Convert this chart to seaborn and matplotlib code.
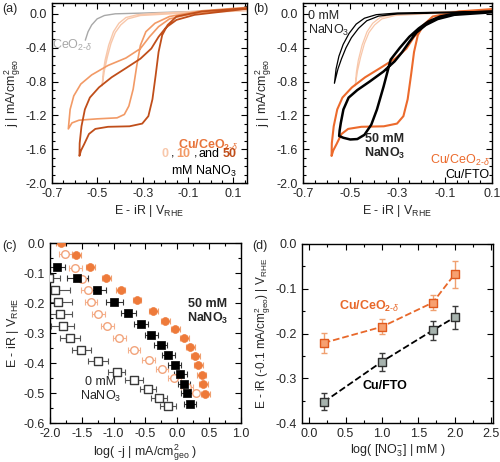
import matplotlib
matplotlib.use("Agg")
import matplotlib.pyplot as plt
import seaborn as sns
from matplotlib.ticker import MultipleLocator, FixedLocator, FormatStrFormatter

# ---------------- data ----------------
# (a)/(b) cyclic voltammograms  (E - iR in V_RHE, j in mA/cm2_geo)
ceo2_E = [-0.553, -0.541, -0.525, -0.501, -0.469, -0.421, -0.31, -0.07, 0.16]
ceo2_j = [-0.31, -0.21, -0.13, -0.058, -0.018, 0.002, 0.01, 0.03, 0.062]

cu0_E = [0.16, -0.071, -0.23, -0.326, -0.374, -0.405, -0.429, -0.45, -0.466, -0.474, -0.479,
         -0.469, -0.456, -0.44, -0.421, -0.397, -0.366, -0.31, -0.15, 0.16]
cu0_j = [0.058, 0.03, 0.01, -0.01, -0.042, -0.11, -0.21, -0.37, -0.549, -0.689, -0.85,
         -0.67, -0.51, -0.35, -0.22, -0.13, -0.058, -0.018, 0.006, 0.038]

cu10_E = [0.16, -0.039, -0.182, -0.246, -0.286, -0.31, -0.326, -0.342, -0.361, -0.381, -0.413,
          -0.501, -0.581, -0.612, -0.628,
          -0.62, -0.604, -0.573, -0.525, -0.453, -0.374, -0.31, -0.27, -0.23, -0.182, -0.071, 0.16]
cu10_j = [0.078, 0.038, -0.03, -0.11, -0.21, -0.37, -0.609, -0.889, -1.089, -1.189, -1.229,
          -1.241, -1.257, -1.289, -1.36,
          -1.129, -0.969, -0.829, -0.721, -0.609, -0.521, -0.409, -0.27, -0.15, -0.058, 0.01, 0.062]

cu50_E = [0.16, -0.039, -0.151, -0.19, -0.214, -0.23, -0.243, -0.257, -0.275, -0.302, -0.358,
          -0.453, -0.509, -0.537, -0.558, -0.572, -0.579,
          -0.578, -0.57, -0.555, -0.533, -0.493, -0.437, -0.374, -0.31, -0.262, -0.23, -0.198,
          -0.151, -0.071, 0.16]
cu50_j = [0.07, 0.03, -0.03, -0.13, -0.25, -0.45, -0.729, -1.009, -1.209, -1.297, -1.329,
          -1.335, -1.36, -1.42, -1.54, -1.615, -1.68,
          -1.529, -1.329, -1.129, -0.989, -0.869, -0.749, -0.641, -0.529, -0.409, -0.27, -0.162,
          -0.07, -0.01, 0.062]

cvfto0_E = [0.1, -0.3, -0.39, -0.44, -0.475, -0.505, -0.53, -0.548, -0.56, -0.567,
            -0.552, -0.537, -0.518, -0.495, -0.465, -0.43, -0.38, -0.3, 0.1]
cvfto0_j = [0.032, 0.012, -0.008, -0.05, -0.12, -0.23, -0.36, -0.5, -0.65, -0.82,
            -0.65, -0.53, -0.4, -0.28, -0.17, -0.08, -0.025, 0.0, 0.026]

cvfto50_E = [0.1, -0.05, -0.12, -0.17, -0.21, -0.25, -0.29, -0.329, -0.359, -0.387, -0.411,
             -0.44, -0.47, -0.5, -0.529, -0.547,
             -0.545, -0.54, -0.529, -0.507, -0.47, -0.418, -0.359, -0.312, -0.28, -0.25, -0.22,
             -0.18, -0.13, -0.06, 0.1]
cvfto50_j = [0.03, 0.01, -0.03, -0.09, -0.17, -0.27, -0.4, -0.54, -0.86, -1.13, -1.31,
             -1.43, -1.48, -1.485, -1.465, -1.444,
             -1.38, -1.29, -1.13, -0.99, -0.9, -0.8, -0.68, -0.56, -0.45, -0.33, -0.22,
             -0.13, -0.06, -0.01, 0.02]

# (c) Tafel-type data: log(-j) vs E - iR
tce50_logj = [-1.83, -1.59, -1.37, -1.116, -0.89, -0.633, -0.376, -0.19, -0.035, 0.11, 0.2, 0.28,
              0.33, 0.38, 0.41, 0.44]
tce50_E = [0.0, -0.039, -0.081, -0.118, -0.158, -0.191, -0.225, -0.259, -0.287, -0.318, -0.347,
           -0.377, -0.408, -0.439, -0.471, -0.503]
tce50_err = [0.07] * 16

tce0_logj = [-1.76, -1.6, -1.5, -1.41, -1.357, -1.24, -1.1, -0.91, -0.68, -0.45, -0.24, -0.05,
             0.15, 0.3]
tce0_E = [-0.037, -0.082, -0.12, -0.158, -0.195, -0.236, -0.278, -0.315, -0.355, -0.39, -0.42,
          -0.45, -0.48, -0.5]
tce0_err = [0.1] * 14

tfto50_logj = [-1.89, -1.57, -1.265, -0.99, -0.77, -0.564, -0.41, -0.26, -0.14, -0.044, 0.047,
               0.106, 0.154, 0.197]
tfto50_E = [-0.081, -0.118, -0.158, -0.195, -0.234, -0.27, -0.306, -0.34, -0.374, -0.405, -0.437,
            -0.47, -0.501, -0.535]
tfto50_err = [0.12, 0.16, 0.15, 0.13, 0.12, 0.11, 0.1, 0.1, 0.1, 0.1, 0.1, 0.1, 0.1, 0.1]

tfto0_logj = [-2.02, -1.92, -1.876, -1.85, -1.8, -1.69, -1.51, -1.25, -0.955, -0.68, -0.46,
              -0.285, -0.15]
tfto0_E = [-0.118, -0.158, -0.195, -0.236, -0.278, -0.315, -0.355, -0.394, -0.43, -0.458, -0.488,
           -0.516, -0.544]
tfto0_err = [0.18, 0.24, 0.22, 0.2, 0.18, 0.16, 0.15, 0.16, 0.14, 0.14, 0.13, 0.13, 0.13]

# (d) onset potential vs log([NO3-])
logno3 = [0.2, 1.0, 1.7, 2.0]
ce_onset = [-0.221, -0.185, -0.131, -0.068]
ce_onset_err = [0.023, 0.017, 0.016, 0.031]
fto_onset = [-0.353, -0.263, -0.193, -0.164]
fto_onset_err = [0.019, 0.02, 0.022, 0.026]

cv_ticks = [-0.7, -0.5, -0.3, -0.1, 0.1]

# ---------------- style ----------------
sns.set_style("ticks")
plt.rcParams['font.family'] = ['Liberation Sans', 'DejaVu Sans']
plt.rcParams['mathtext.fontset'] = 'custom'
plt.rcParams['mathtext.rm'] = 'Liberation Sans'
plt.rcParams['mathtext.it'] = 'Liberation Sans:italic'
plt.rcParams['mathtext.bf'] = 'Liberation Sans:bold'
plt.rcParams['axes.unicode_minus'] = False
plt.rcParams['font.size'] = 9

C_GRAY = '#a8a8a8'
C_LIGHT = '#f8c7aa'
C_MED = '#f29a66'
C_DARK = '#c04e1a'
C_ORANGE = '#ec6a2c'
C_TXT_OR = '#e8743b'

fig = plt.figure(figsize=(5.0, 4.62), dpi=100)
axa = fig.add_axes([52/500, 279/462, 195/500, 180/462])
axb = fig.add_axes([303/500, 279/462, 189/500, 180/462])
axc = fig.add_axes([50/500, 39/462, 191/500, 180/462])
axd = fig.add_axes([302/500, 39/462, 191/500, 179/462])


def style_axes(ax, xmaj, xmin, ymaj, ymin):
    if isinstance(xmaj, list):
        ax.xaxis.set_major_locator(FixedLocator(xmaj))
    else:
        ax.xaxis.set_major_locator(MultipleLocator(xmaj))
    ax.xaxis.set_minor_locator(MultipleLocator(xmin))
    ax.yaxis.set_major_locator(MultipleLocator(ymaj))
    ax.yaxis.set_minor_locator(MultipleLocator(ymin))
    ax.xaxis.set_major_formatter(FormatStrFormatter('%.1f'))
    ax.yaxis.set_major_formatter(FormatStrFormatter('%.1f'))
    ax.tick_params(which='both', direction='in', top=True, right=True, labelsize=9,
                   color='black', width=0.8)
    ax.tick_params(which='major', length=4)
    ax.tick_params(which='minor', length=2)
    for s in ax.spines.values():
        s.set_linewidth(1.0)
        s.set_color('black')


def cv(ax, E, j, color, lw):
    sns.lineplot(x=E, y=j, sort=False, estimator=None, color=color, lw=lw, ax=ax)


# ---------------- (a) ----------------
cv(axa, ceo2_E, ceo2_j, C_GRAY, 1.0)
cv(axa, cu0_E, cu0_j, C_LIGHT, 1.0)
cv(axa, cu10_E, cu10_j, C_MED, 1.2)
cv(axa, cu50_E, cu50_j, C_DARK, 1.3)
axa.set_xlim(-0.7, 0.16)
axa.set_ylim(-2.0, 0.13)
style_axes(axa, cv_ticks, 0.05, 0.4, 0.1)
axa.set_xlabel(r'E - iR | V$_{\rm RHE}$', fontsize=9, labelpad=2)
axa.set_ylabel(r'j | mA/cm$^2_{\rm geo}$', fontsize=9, labelpad=2)
axa.text(-0.61, -0.37, r'CeO$_{2\text{-}\delta}$', color=C_GRAY, ha='center', va='center', fontsize=9)
axa.text(0.125, -1.55, r'Cu/CeO$_{\mathbf{2}\text{-}\delta}$', color=C_TXT_OR, ha='right', va='center',
         fontsize=9, fontweight='bold')
axa.text(0.115, -1.86, r'mM NaNO$_3$', color='black', ha='right', va='center', fontsize=9)

# multi-coloured line "0, 10, and 50": pieces placed right-to-left with measured widths
pieces = [('50', C_DARK, 'bold', 0), ('and', 'black', 'normal', 3), (',', 'black', 'normal', 2),
          ('10', C_MED, 'bold', 3), (',', 'black', 'normal', 2), ('0', C_LIGHT, 'bold', 3)]
fig.canvas.draw()
renderer = fig.canvas.get_renderer()
x_right, y_line = axa.transData.transform((0.115, -1.69))
to_axes = axa.transAxes.inverted()
for txt, col, wt, gap in pieces:
    x_right -= gap
    ax_x, ax_y = to_axes.transform((x_right, y_line))
    t = axa.text(ax_x, ax_y, txt, transform=axa.transAxes, color=col, ha='right',
                 va='baseline', fontsize=9, fontweight=wt)
    x_right -= t.get_window_extent(renderer).width

# ---------------- (b) ----------------
cv(axb, cu0_E, cu0_j, C_LIGHT, 0.9)
cv(axb, cu50_E, cu50_j, C_ORANGE, 1.5)
cv(axb, cvfto0_E, cvfto0_j, 'black', 0.9)
cv(axb, cvfto50_E, cvfto50_j, 'black', 1.8)
axb.set_xlim(-0.7, 0.1)
axb.set_ylim(-2.0, 0.13)
style_axes(axb, cv_ticks, 0.05, 0.4, 0.1)
axb.set_xlabel(r'E - iR | V$_{\rm RHE}$', fontsize=9, labelpad=2)
axb.set_ylabel(r'j | mA/cm$^2_{\rm geo}$', fontsize=9, labelpad=2)
axb.text(-0.68, 0.05, '0 mM\n' + r'NaNO$_3$', ha='left', va='top', fontsize=9, linespacing=1.1)
axb.text(-0.355, -1.57, '50 mM\n' + r'NaNO$_\mathbf{3}$', ha='center', va='center', fontsize=9,
         fontweight='bold', linespacing=1.1)
axb.text(0.09, -1.735, r'Cu/CeO$_{2\text{-}\delta}$', color=C_ORANGE, ha='right', va='center', fontsize=9)
axb.text(0.09, -1.9, 'Cu/FTO', color='black', ha='right', va='center', fontsize=9)

# ---------------- (c) ----------------
axc.errorbar(tfto0_logj, tfto0_E, xerr=tfto0_err, fmt='none', ecolor='#555555', elinewidth=0.8,
             capsize=2, capthick=0.8, zorder=2)
axc.errorbar(tce0_logj, tce0_E, xerr=tce0_err, fmt='none', ecolor='#f4b08c', elinewidth=0.8,
             capsize=2, capthick=0.8, zorder=2)
axc.errorbar(tfto50_logj, tfto50_E, xerr=tfto50_err, fmt='none', ecolor='#333333', elinewidth=0.8,
             capsize=2, capthick=0.8, zorder=2)
axc.errorbar(tce50_logj, tce50_E, xerr=tce50_err, fmt='none', ecolor='#f0a070', elinewidth=0.8,
             capsize=2, capthick=0.8, zorder=2)
sns.scatterplot(x=tfto0_logj, y=tfto0_E, marker='s', s=26, color='white', edgecolor='#3a3a3a',
                linewidth=1.0, ax=axc, zorder=3)
sns.scatterplot(x=tce0_logj, y=tce0_E, marker='o', s=30, color='white', edgecolor='#f2a47c',
                linewidth=1.0, ax=axc, zorder=3)
sns.scatterplot(x=tfto50_logj, y=tfto50_E, marker='s', s=28, color='black', edgecolor='black',
                linewidth=0.5, ax=axc, zorder=4)
sns.scatterplot(x=tce50_logj, y=tce50_E, marker='o', s=32, color='#ee7a3a', edgecolor='#ee7a3a',
                linewidth=0.5, ax=axc, zorder=4)
axc.set_xlim(-2.0, 1.0)
axc.set_ylim(-0.6, 0.0)
style_axes(axc, 0.5, 0.25, 0.1, 0.05)
axc.set_xlabel(r'log( -j | mA/cm$^2_{\rm geo}$ )', fontsize=9, labelpad=2)
axc.set_ylabel(r'E - iR | V$_{\rm RHE}$', fontsize=9, labelpad=2)
axc.text(0.47, -0.23, '50 mM\n' + r'NaNO$_\mathbf{3}$', ha='center', va='center', fontsize=9,
         fontweight='bold', linespacing=1.1)
axc.text(-1.2, -0.49, '0 mM\n' + r'NaNO$_3$', ha='center', va='center', fontsize=9, linespacing=1.1)

# ---------------- (d) ----------------
sns.lineplot(x=logno3, y=ce_onset, color='#e8682a', lw=1.3, ax=axd, linestyle='--', zorder=2)
sns.lineplot(x=logno3, y=fto_onset, color='black', lw=1.3, ax=axd, linestyle='--', zorder=2)
axd.errorbar(logno3, ce_onset, yerr=ce_onset_err, fmt='none', ecolor='#f0a070', elinewidth=1.0,
             capsize=2.5, capthick=1.0, zorder=3)
axd.errorbar(logno3, fto_onset, yerr=fto_onset_err, fmt='none', ecolor='#3a3a3a', elinewidth=1.0,
             capsize=2.5, capthick=1.0, zorder=3)
sns.scatterplot(x=logno3, y=ce_onset, marker='s', s=38, color='#f7a070', edgecolor='#e05a1e',
                linewidth=1.0, ax=axd, zorder=4)
sns.scatterplot(x=logno3, y=fto_onset, marker='s', s=38, color='#a6b2ad', edgecolor='#2f2f2f',
                linewidth=1.0, ax=axd, zorder=4)
axd.set_xlim(-0.1, 2.53)
axd.set_ylim(-0.4, 0.0)
style_axes(axd, 0.5, 0.25, 0.1, 0.05)
axd.set_xlabel(r'log( [NO$_3^{-}$] | mM )', fontsize=9, labelpad=2)
axd.set_ylabel(r'E - iR (-0.1 mA/cm$^2_{\rm geo}$) | V$_{\rm RHE}$', fontsize=8.5, labelpad=2)
axd.text(0.83, -0.14, r'Cu/CeO$_{\mathbf{2}\text{-}\delta}$', color='#e8682a', ha='center', va='center',
         fontsize=9, fontweight='bold')
axd.text(1.04, -0.318, 'Cu/FTO', color='black', ha='center', va='center', fontsize=9, fontweight='bold')

# panel letters
fig.text(2/500, 1 - 9/462, '(a)', fontsize=9, va='center', ha='left')
fig.text(253/500, 1 - 9/462, '(b)', fontsize=9, va='center', ha='left')
fig.text(2/500, 1 - 246/462, '(c)', fontsize=9, va='center', ha='left')
fig.text(252/500, 1 - 246/462, '(d)', fontsize=9, va='center', ha='left')

fig.savefig('out.png', dpi=100)
